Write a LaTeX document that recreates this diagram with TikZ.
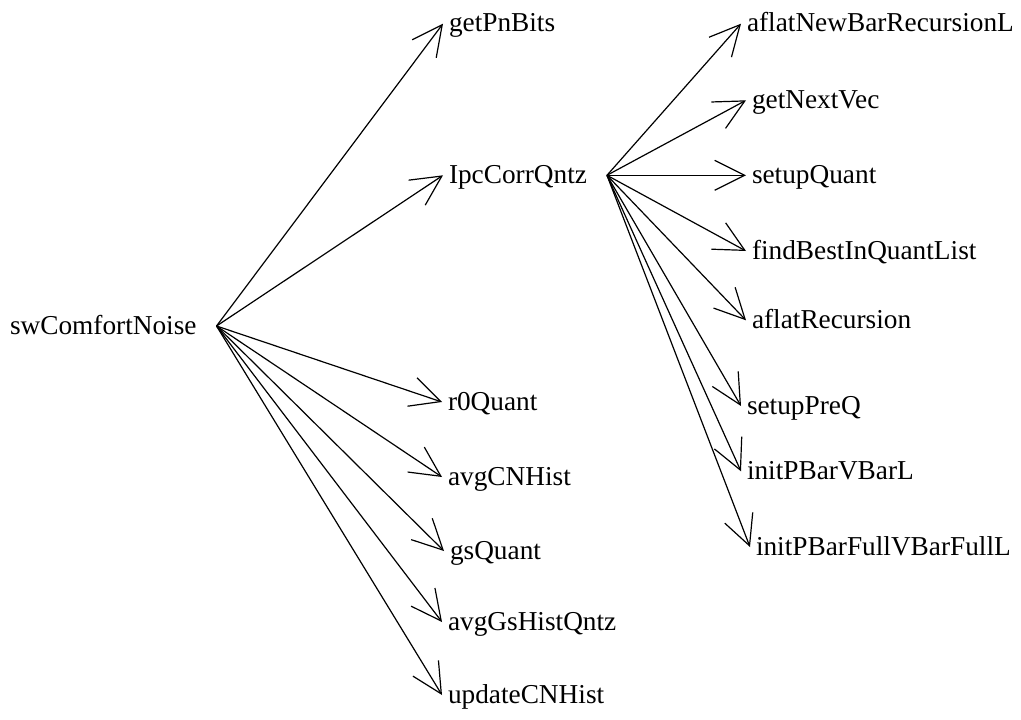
\documentclass[tikz,border=0pt]{standalone}
\usepackage{fontspec}
\setmainfont{Liberation Serif}
\usetikzlibrary{calc}
\usetikzlibrary{arrows.meta}

\tikzset{
    fn/.style={inner sep=0pt, outer xsep=6pt, text height=21pt, text depth=5pt,
               anchor=base west, font=\fontsize{27.3}{32}\selectfont},
    call/.style={line width=1.2pt, -{Straight Barb[length=30pt, width=30pt]}},
}

\begin{document}
\begin{tikzpicture}[x=1pt, y=-1pt]
    \useasboundingbox (0,0) rectangle (1021,720);

    % caller
    \node[fn] (sw) at (4, 334) {swComfortNoise};

    % first level
    \node[fn] (getPnBits) at (443, 31.7) {getPnBits};
    \node[fn] (lpc) at (443, 183.3) {IpcCorrQntz};
    \node[fn] (r0Quant) at (442, 410) {r0Quant};
    \node[fn] (avgCNHist) at (442, 485) {avgCNHist};
    \node[fn] (gsQuant) at (444, 559) {gsQuant};
    \node[fn] (avgGsHistQntz) at (442, 630) {avgGsHistQntz};
    \node[fn] (updateCNHist) at (442, 703) {updateCNHist};

    % second level
    \node[fn] (aflatNewBar) at (741, 31.7) {aflatNewBarRecursionL};
    \node[fn] (getNextVec) at (746, 108.3) {getNextVec};
    \node[fn] (setupQuant) at (746, 183.3) {setupQuant};
    \node[fn] (findBest) at (746, 259) {findBestInQuantList};
    \node[fn] (aflatRec) at (746, 328.3) {aflatRecursion};
    \node[fn] (setupPreQ) at (741, 414) {setupPreQ};
    \node[fn] (initPBarV) at (741, 479.3) {initPBarVBarL};
    \node[fn] (initPBarFull) at (750, 555) {initPBarFullVBarFullL};

    \foreach \t in {getPnBits, lpc, r0Quant, avgCNHist, gsQuant, avgGsHistQntz, updateCNHist}
        \draw[call] ([xshift=14pt]sw.east) -- (\t.west);

    \foreach \t in {aflatNewBar, getNextVec, setupQuant, findBest, aflatRec, setupPreQ, initPBarV, initPBarFull}
        \draw[call] ([xshift=14pt]lpc.east) -- (\t.west);

\end{tikzpicture}
\end{document}
